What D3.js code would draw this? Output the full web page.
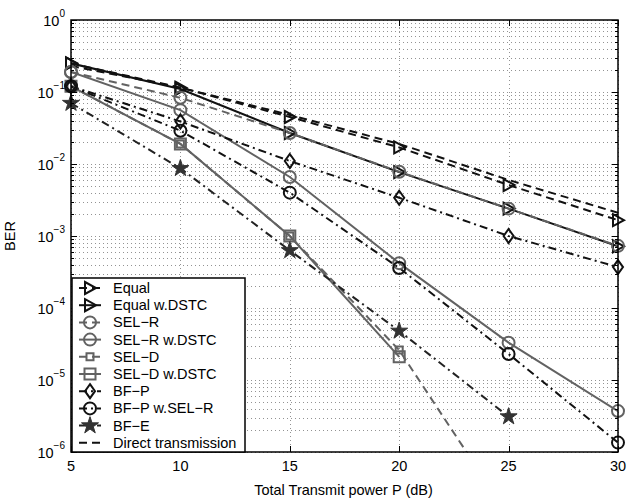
<!DOCTYPE html>
<html>
<head>
<meta charset="utf-8">
<script src="https://cdn.jsdelivr.net/npm/d3@7"></script>
<style>
  body { margin: 0; background: #fff; }
  text { font-family: "Liberation Sans", Arial, sans-serif; }
</style>
</head>
<body>
<div id="chart"></div>
<script>
// BER vs total transmit power
const power = [5, 10, 15, 20, 25, 30];
const equal = [0.25, 0.115, 0.045, 0.017, 0.0051, 0.00166];
const equalDSTC = [0.25, 0.11, 0.027, 0.0077, 0.0024, 0.00072];
const selR = [0.19, 0.083, 0.027, 0.0078, 0.0024, 0.00073];
const selRDSTC = [0.19, 0.056, 0.0066, 0.00042, 3.3e-5, 3.7e-6];
const selD = [0.12, 0.019, 0.001, 2.6e-5, 1.3e-7];
const selDDSTC = [0.12, 0.019, 0.001, 2.1e-5];
const bfP = [0.12, 0.039, 0.011, 0.0034, 0.001, 0.00037];
const bfPSelR = [0.12, 0.029, 0.004, 0.00036, 2.3e-5, 1.35e-6];
const bfE = [0.07, 0.0087, 0.00063, 4.8e-5, 3.1e-6];
const direct = [0.23, 0.115, 0.048, 0.019, 0.006, 0.0021];

const xTicks = [5, 10, 15, 20, 25, 30];
const yExponents = [0, -1, -2, -3, -4, -5, -6];

const BLACK = "#111", GRAY = "#626262";
const DASH = "8,5", DASHDOT = "8,4,2,4";

const series = [
  { name: "Equal", values: equal, color: BLACK, dash: DASH, marker: "tri" },
  { name: "Equal w.DSTC", values: equalDSTC, color: BLACK, dash: null, marker: "tri" },
  { name: "SEL\u2212R", values: selR, color: GRAY, dash: DASH, marker: "circle" },
  { name: "SEL\u2212R w.DSTC", values: selRDSTC, color: GRAY, dash: null, marker: "circle" },
  { name: "SEL\u2212D", values: selD, color: GRAY, dash: DASH, marker: "sqSmall" },
  { name: "SEL\u2212D w.DSTC", values: selDDSTC, color: GRAY, dash: null, marker: "sqBig" },
  { name: "BF\u2212P", values: bfP, color: BLACK, dash: DASHDOT, marker: "diamond" },
  { name: "BF\u2212P w.SEL\u2212R", values: bfPSelR, color: BLACK, dash: DASHDOT, marker: "circle" },
  { name: "BF\u2212E", values: bfE, color: "#222", dash: DASHDOT, marker: "star" },
  { name: "Direct transmission", values: direct, color: BLACK, dash: DASH, marker: null }
];

const width = 627, height = 498;
const plot = { left: 71, right: 618, top: 20, bottom: 452 };

const x = d3.scaleLinear().domain([5, 30]).range([plot.left, plot.right]);
const y = d3.scaleLog().domain([1e-6, 1]).range([plot.bottom, plot.top]);

const svg = d3.select("#chart").append("svg")
  .attr("width", width).attr("height", height);

svg.append("defs").append("clipPath").attr("id", "clip")
  .append("rect")
  .attr("x", plot.left).attr("y", plot.top)
  .attr("width", plot.right - plot.left).attr("height", plot.bottom - plot.top);

// grid
const grid = svg.append("g")
  .attr("stroke", "#777").attr("stroke-width", 0.8)
  .attr("stroke-dasharray", "1,3");
const yGrid = [];
for (let e = -6; e < 0; e++) for (let k = 1; k < 10; k++) yGrid.push(k * Math.pow(10, e));
yGrid.push(1);
grid.selectAll("line.gy").data(yGrid).join("line")
  .attr("x1", plot.left).attr("x2", plot.right)
  .attr("y1", d => Math.round(y(d)) + 0.5).attr("y2", d => Math.round(y(d)) + 0.5);
grid.selectAll("line.gx").data(xTicks).join("line")
  .attr("y1", plot.top).attr("y2", plot.bottom)
  .attr("x1", d => Math.round(x(d)) + 0.5).attr("x2", d => Math.round(x(d)) + 0.5);

// lines
const line = d3.line().x(d => x(d[0])).y(d => y(d[1]));
const gLines = svg.append("g").attr("clip-path", "url(#clip)").attr("fill", "none");
series.forEach(s => {
  gLines.append("path")
    .attr("d", line(s.values.map((v, i) => [power[i], v])))
    .attr("stroke", s.color)
    .attr("stroke-width", 2)
    .attr("stroke-dasharray", s.dash);
});

// markers
function markerPath(kind) {
  switch (kind) {
    case "tri": return "M-5,-6L6,0L-5,6Z";
    case "circle": return d3.symbol(d3.symbolCircle, 113)();
    case "sqSmall": return "M-3.5,-3.5H3.5V3.5H-3.5Z";
    case "sqBig": return "M-5.5,-5.5H5.5V5.5H-5.5Z";
    case "diamond": return "M0,-7L5,0L0,7L-5,0Z";
    case "star": return d3.symbol(d3.symbolStar, 90)();
  }
}
function drawMarker(g, kind, color, cx, cy) {
  if (!kind) return;
  g.append("path")
    .attr("d", markerPath(kind))
    .attr("transform", `translate(${cx},${cy})`)
    .attr("fill", kind === "star" ? "#333" : "none")
    .attr("stroke", kind === "star" ? "#333" : color)
    .attr("stroke-width", kind === "star" ? 1 : 2);
}
const gMarks = svg.append("g");
series.forEach(s => {
  s.values.forEach((v, i) => {
    if (v >= 1e-6 && v <= 1) drawMarker(gMarks, s.marker, s.color, x(power[i]), y(v));
  });
});

// axes box and ticks
const gAxis = svg.append("g").attr("stroke", "#000");
gAxis.append("rect")
  .attr("x", plot.left).attr("y", plot.top)
  .attr("width", plot.right - plot.left).attr("height", plot.bottom - plot.top)
  .attr("fill", "none").attr("stroke-width", 1.5);
xTicks.forEach(t => {
  const px = Math.round(x(t)) + 0.5;
  gAxis.append("line").attr("x1", px).attr("x2", px).attr("y1", plot.bottom).attr("y2", plot.bottom - 6);
  gAxis.append("line").attr("x1", px).attr("x2", px).attr("y1", plot.top).attr("y2", plot.top + 6);
});
yGrid.forEach(t => {
  const py = Math.round(y(t)) + 0.5;
  const major = Math.abs(Math.log10(t) - Math.round(Math.log10(t))) < 1e-9;
  const len = major ? 6 : 3;
  gAxis.append("line").attr("x1", plot.left).attr("x2", plot.left + len).attr("y1", py).attr("y2", py);
  gAxis.append("line").attr("x1", plot.right).attr("x2", plot.right - len).attr("y1", py).attr("y2", py);
});

// tick labels
svg.append("g").selectAll("text").data(xTicks).join("text")
  .attr("x", d => x(d)).attr("y", plot.bottom + 19)
  .attr("text-anchor", "middle").attr("font-size", 14.5)
  .text(d => d);

const yl = svg.append("g").selectAll("text").data(yExponents).join("text")
  .attr("x", plot.left - 6).attr("y", d => y(Math.pow(10, d)) + 6)
  .attr("text-anchor", "end").attr("font-size", 14.5);
yl.append("tspan").text("10");
yl.append("tspan").attr("dy", -9).attr("font-size", 10)
  .text(d => d === 0 ? "0" : "\u2212" + Math.abs(d));

// axis labels
svg.append("text")
  .attr("x", (plot.left + plot.right) / 2 - 1).attr("y", 495)
  .attr("text-anchor", "middle").attr("font-size", 14.5)
  .text("Total Transmit power P (dB)");
svg.append("text")
  .attr("transform", `translate(15,${(plot.top + plot.bottom) / 2}) rotate(-90)`)
  .attr("text-anchor", "middle").attr("font-size", 14.5)
  .text("BER");

// legend
const legend = { x: 72, y: 278, w: 173, h: plot.bottom - 278, row0: 288, step: 17.2 };
const gLeg = svg.append("g");
gLeg.append("rect")
  .attr("x", legend.x).attr("y", legend.y)
  .attr("width", legend.w).attr("height", legend.h)
  .attr("fill", "#fff").attr("stroke", "#000").attr("stroke-width", 1.5);
series.forEach((s, i) => {
  const ry = legend.row0 + i * legend.step;
  gLeg.append("line")
    .attr("x1", 79).attr("x2", 101).attr("y1", ry).attr("y2", ry)
    .attr("stroke", s.color).attr("stroke-width", 2)
    .attr("stroke-dasharray", s.dash);
  drawMarker(gLeg, s.marker, s.color, 90, ry);
  gLeg.append("text")
    .attr("x", 113).attr("y", ry + 5)
    .attr("font-size", 14.5)
    .text(s.name);
});
</script>
</body>
</html>
